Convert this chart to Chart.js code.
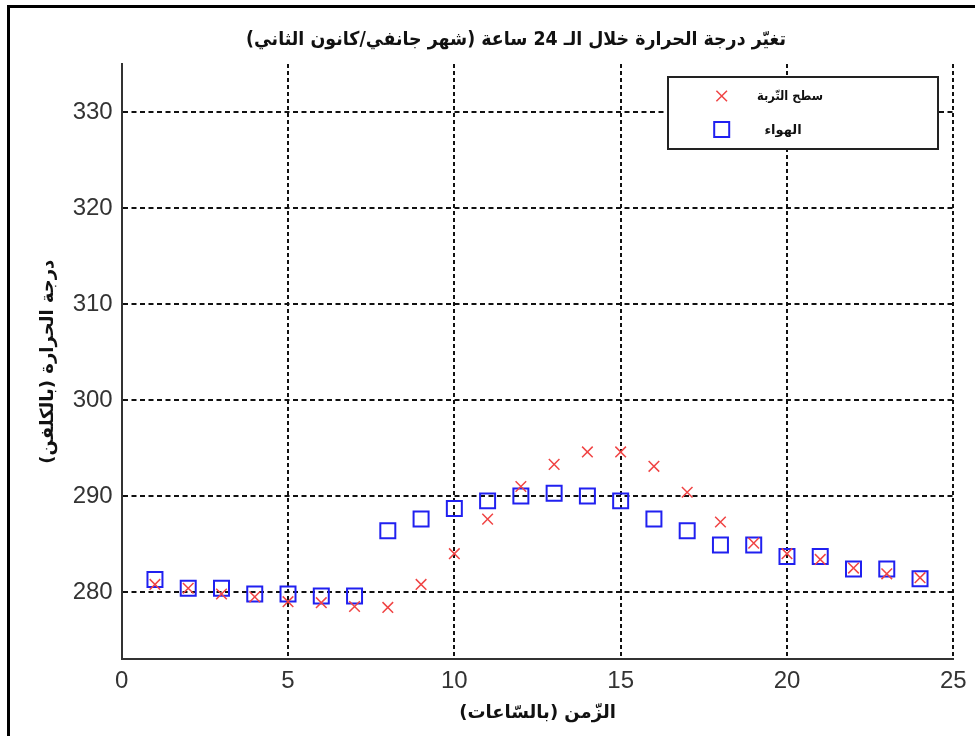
<!DOCTYPE html>
<html>
<head>
<meta charset="utf-8">
<script src="https://cdn.jsdelivr.net/npm/chart.js@4/dist/chart.umd.min.js"></script>
<style>
html,body{margin:0;padding:0;background:#fff;}
#wrap{width:975px;height:736px;position:relative;}
canvas{display:block;}
</style>
</head>
<body>
<div id="wrap"><canvas id="c" width="975" height="736" dir="rtl"></canvas></div>
<script>
// ---- data ----
const hours = [1,2,3,4,5,6,7,8,9,10,11,12,13,14,15,16,17,18,19,20,21,22,23,24];
const soilSurface = [280.8,280.4,279.8,279.5,279.0,278.9,278.5,278.4,280.8,284.0,287.6,291.0,293.3,294.6,294.6,293.1,290.4,287.3,285.1,284.0,283.4,282.5,281.9,281.5];
const airTemp = [281.3,280.4,280.4,279.8,279.8,279.6,279.6,286.4,287.6,288.7,289.5,290.0,290.3,290.0,289.5,287.6,286.4,284.9,284.9,283.7,283.7,282.4,282.4,281.4];
const xTicks = [0,5,10,15,20,25];
const yTicks = [280,290,300,310,320,330];
const seriesNames = ['سطح التّربة','الهواء'];
const titleText = 'تغيّر درجة الحرارة خلال الـ 24 ساعة (شهر جانفي/كانون الثاني)';
const xTitle = 'الزّمن (بالسّاعات)';
const yTitle = 'درجة الحرارة (بالكلفن)';

const SOIL_COLOR = '#f04444';
const AIR_COLOR = '#2020f0';
const ARABIC_FONT = "'DejaVu Sans', sans-serif";

const decor = {
  id: 'decor',
  afterDraw(chart) {
    const ctx = chart.ctx;
    ctx.save();
    // outer frame
    ctx.strokeStyle = '#000';
    ctx.lineWidth = 3;
    ctx.beginPath();
    ctx.moveTo(8.5, 736);
    ctx.lineTo(8.5, 6.5);
    ctx.lineTo(975, 6.5);
    ctx.stroke();
    // title
    ctx.direction = 'rtl';
    ctx.fillStyle = '#111';
    ctx.font = "bold 19px " + ARABIC_FONT;
    ctx.textAlign = 'center';
    ctx.textBaseline = 'middle';
    ctx.fillText(titleText, 516, 40, 540);
    // legend
    const lx = 668, ly = 77, lw = 270, lh = 72;
    ctx.fillStyle = '#fff';
    ctx.fillRect(lx, ly, lw, lh);
    ctx.strokeStyle = '#222';
    ctx.lineWidth = 2;
    ctx.strokeRect(lx, ly, lw, lh);
    // cross marker
    ctx.strokeStyle = SOIL_COLOR;
    ctx.lineWidth = 1.5;
    const cx = 721.7, cy = 96, d = 5.3;
    ctx.beginPath();
    ctx.moveTo(cx - d, cy - d); ctx.lineTo(cx + d, cy + d);
    ctx.moveTo(cx - d, cy + d); ctx.lineTo(cx + d, cy - d);
    ctx.stroke();
    // square marker
    ctx.strokeStyle = AIR_COLOR;
    ctx.lineWidth = 2;
    ctx.strokeRect(721.7 - 7.5, 129.5 - 7.5, 15, 15);
    // labels
    ctx.fillStyle = '#111';
    ctx.font = "bold 13px " + ARABIC_FONT;
    ctx.fillText(seriesNames[0], 790, 97, 66);
    ctx.fillText(seriesNames[1], 783, 131, 40);
    ctx.restore();
  }
};

const chart = new Chart(document.getElementById('c'), {
  type: 'scatter',
  data: {
    datasets: [
      {
        label: seriesNames[0],
        data: hours.map((h, i) => ({x: h, y: soilSurface[i]})),
        pointStyle: 'crossRot',
        pointRadius: 7.5,
        pointHoverRadius: 7.5,
        borderColor: SOIL_COLOR,
        backgroundColor: SOIL_COLOR,
        pointBorderWidth: 1.5,
        borderWidth: 1.5,
        showLine: false
      },
      {
        label: seriesNames[1],
        data: hours.map((h, i) => ({x: h, y: airTemp[i]})),
        pointStyle: 'rect',
        pointRadius: 10.6,
        pointHoverRadius: 10.6,
        borderColor: AIR_COLOR,
        backgroundColor: 'rgba(0,0,0,0)',
        pointBorderWidth: 2,
        borderWidth: 2,
        showLine: false
      }
    ]
  },
  options: {
    responsive: false,
    animation: false,
    events: [],
    layout: { padding: { top: 64, right: 21.7, left: 0, bottom: 0 } },
    plugins: {
      legend: { display: false },
      tooltip: { enabled: false },
      title: { display: false }
    },
    scales: {
      x: {
        type: 'linear',
        min: 0, max: 25,
        afterBuildTicks: (s) => { s.ticks = xTicks.map(v => ({value: v})); },
        afterFit: (s) => { s.height = 76.7; },
        ticks: {
          color: '#333',
          font: { family: "'Liberation Sans', Arial, sans-serif", size: 24 },
          padding: 8,
          maxRotation: 0
        },
        grid: { color: '#111', lineWidth: 2, drawTicks: false },
        border: { display: true, color: '#333', width: 2, dash: [4, 3] },
        title: {
          display: true,
          text: xTitle,
          color: '#111',
          font: { family: ARABIC_FONT, size: 18, weight: 'bold' },
          padding: { top: 0, bottom: 12 }
        }
      },
      y: {
        type: 'linear',
        min: 273, max: 335,
        afterBuildTicks: (s) => { s.ticks = yTicks.map(v => ({value: v})); },
        afterFit: (s) => { s.width = 121.7; },
        ticks: {
          color: '#333',
          font: { family: "'Liberation Sans', Arial, sans-serif", size: 24 },
          padding: 9
        },
        grid: { color: '#111', lineWidth: 2, drawTicks: false },
        border: { display: true, color: '#333', width: 2, dash: [5, 3.5] },
        title: {
          display: true,
          text: yTitle,
          color: '#111',
          font: { family: ARABIC_FONT, size: 18, weight: 'bold' },
          padding: { top: 38, bottom: 0 }
        }
      }
    }
  },
  plugins: [decor]
});
</script>
</body>
</html>
